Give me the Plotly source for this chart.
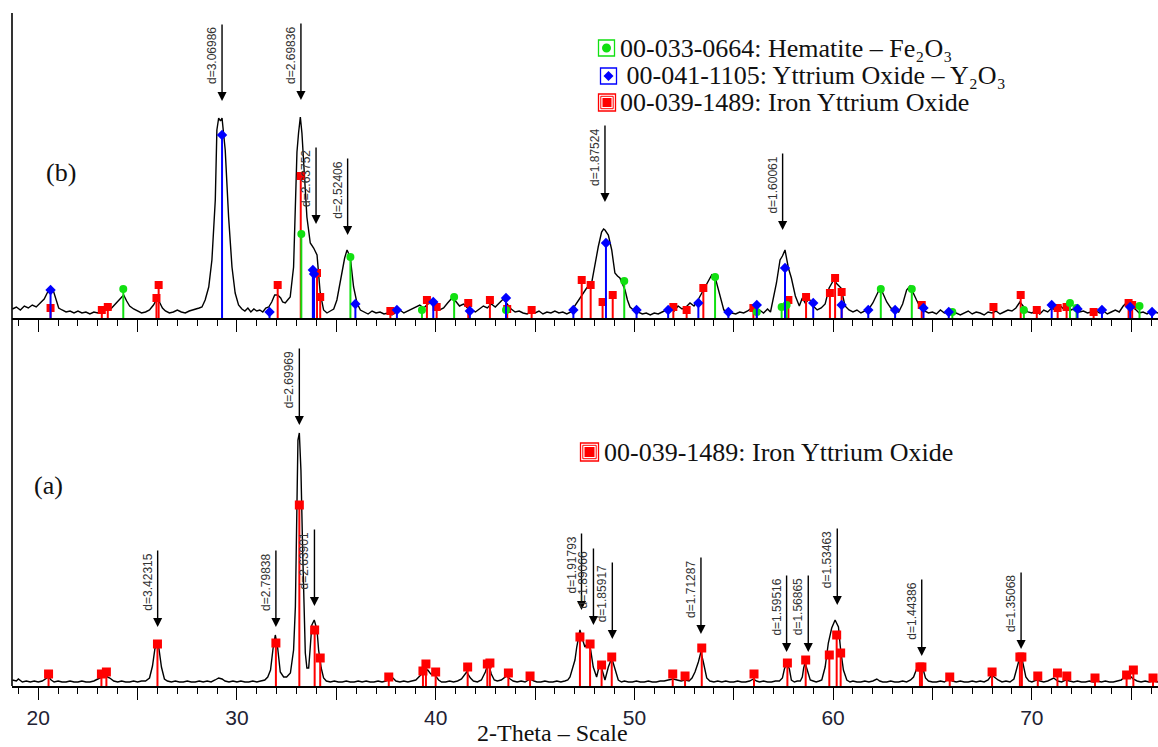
import plotly.graph_objects as go

# ---------------- data: measured pattern (b) (2-theta, counts) ----------------
pattern_b = [
    (18.7, 9), (18.9, 11), (19.1, 8), (19.3, 12), (19.5, 10), (19.7, 13), (19.9, 11), (20.1, 15),
    (20.3, 19), (20.5, 27), (20.62, 31), (20.75, 28), (20.9, 18), (21.03, 10), (21.2, 8), (21.4, 6),
    (21.6, 7), (21.8, 5), (22.0, 7), (22.2, 5), (22.4, 6), (22.6, 4), (22.8, 6), (23.0, 5),
    (23.2, 9), (23.4, 11), (23.6, 8), (23.8, 12), (24.0, 16), (24.15, 20), (24.3, 23), (24.45, 17),
    (24.6, 12), (24.8, 9), (25.0, 7), (25.2, 5), (25.4, 6), (25.6, 8), (25.8, 13), (25.9, 17),
    (26.0, 20), (26.1, 16), (26.25, 10), (26.4, 7), (26.6, 5), (26.8, 6), (27.0, 8), (27.2, 6),
    (27.4, 5), (27.6, 7), (27.8, 8), (28.0, 9), (28.1, 10), (28.24, 11), (28.4, 18), (28.58, 31),
    (28.74, 58), (28.91, 118), (28.99, 188), (29.08, 200), (29.17, 197), (29.25, 200), (29.41, 168),
    (29.58, 101), (29.75, 51), (29.91, 25), (30.08, 13), (30.25, 9), (30.4, 7), (30.55, 10), (30.7, 6),
    (30.85, 9), (31.0, 7), (31.15, 8), (31.3, 6), (31.45, 10), (31.6, 11), (31.75, 16), (31.9, 23),
    (32.05, 23), (32.2, 20), (32.3, 16), (32.43, 15), (32.55, 18), (32.68, 21), (32.85, 51),
    (32.93, 118), (33.02, 166), (33.1, 185), (33.19, 201), (33.27, 185), (33.36, 151), (33.52, 101),
    (33.69, 75), (33.86, 70), (34.03, 63), (34.11, 45), (34.19, 25), (34.36, 8), (34.53, 5),
    (34.7, 7), (34.87, 9), (35.03, 18), (35.15, 30), (35.28, 45), (35.42, 60), (35.54, 68), (35.7, 61),
    (35.87, 31), (36.04, 15), (36.21, 8), (36.4, 6), (36.6, 4), (36.8, 7), (37.0, 5), (37.2, 6),
    (37.4, 4), (37.6, 5), (37.8, 3), (38.0, 6), (38.2, 8), (38.4, 5), (38.6, 7), (38.8, 9),
    (39.0, 11), (39.2, 13), (39.4, 10), (39.6, 14), (39.86, 16), (40.0, 12), (40.2, 8), (40.4, 10),
    (40.6, 15), (40.87, 21), (41.0, 17), (41.2, 12), (41.4, 14), (41.6, 10), (41.8, 8), (42.0, 6),
    (42.2, 9), (42.4, 12), (42.6, 10), (42.8, 14), (43.0, 11), (43.2, 15), (43.4, 19), (43.6, 14),
    (43.8, 9), (44.0, 6), (44.2, 7), (44.4, 5), (44.6, 4), (44.8, 6), (45.0, 5), (45.2, 7),
    (45.4, 4), (45.6, 6), (45.8, 5), (46.0, 7), (46.2, 5), (46.4, 6), (46.6, 4), (46.8, 6),
    (46.93, 10), (47.1, 14), (47.26, 20), (47.45, 26), (47.6, 30), (47.85, 35), (48.02, 55),
    (48.18, 71), (48.35, 86), (48.45, 89), (48.52, 88), (48.69, 83), (48.86, 68), (49.02, 45),
    (49.15, 42), (49.27, 40), (49.4, 34), (49.53, 28), (49.65, 18), (49.78, 11), (49.95, 8),
    (50.2, 6), (50.4, 4), (50.6, 5), (50.8, 3), (51.0, 5), (51.2, 4), (51.4, 6), (51.6, 8),
    (51.8, 10), (52.0, 7), (52.2, 12), (52.4, 9), (52.6, 11), (52.8, 15), (53.0, 12), (53.2, 18),
    (53.4, 25), (53.6, 32), (53.89, 43), (54.1, 38), (54.3, 22), (54.5, 8), (54.7, 6), (54.9, 5),
    (55.1, 4), (55.3, 6), (55.5, 5), (55.7, 7), (55.9, 10), (56.1, 6), (56.3, 8), (56.5, 5),
    (56.7, 9), (56.85, 6), (57.0, 21), (57.15, 35), (57.33, 58), (57.45, 62), (57.58, 68),
    (57.75, 50), (57.9, 40), (58.1, 22), (58.3, 12), (58.45, 20), (58.6, 15), (58.8, 19),
    (59.0, 12), (59.2, 8), (59.4, 10), (59.6, 14), (59.8, 30), (60.03, 38), (60.2, 34), (60.4, 30),
    (60.6, 12), (60.8, 8), (61.0, 6), (61.2, 8), (61.4, 5), (61.6, 7), (61.8, 9), (62.0, 15),
    (62.2, 24), (62.36, 30), (62.5, 25), (62.7, 16), (62.9, 10), (63.1, 8), (63.3, 6), (63.5, 14),
    (63.7, 28), (63.87, 32), (64.0, 26), (64.2, 18), (64.4, 10), (64.6, 7), (64.8, 5), (65.0, 6),
    (65.2, 4), (65.4, 8), (65.6, 5), (65.8, 6), (66.0, 4), (66.2, 5), (66.4, 3), (66.6, 5),
    (66.8, 7), (67.0, 4), (67.2, 6), (67.4, 5), (67.6, 3), (67.8, 6), (68.0, 5), (68.2, 7),
    (68.4, 4), (68.6, 6), (68.8, 8), (69.0, 7), (69.2, 10), (69.4, 16), (69.6, 11), (69.8, 6),
    (70.0, 5), (70.2, 7), (70.4, 4), (70.6, 8), (70.8, 6), (71.0, 10), (71.2, 8), (71.4, 13),
    (71.6, 9), (71.8, 12), (72.0, 8), (72.2, 10), (72.4, 6), (72.6, 7), (72.8, 5), (73.0, 6),
    (73.2, 8), (73.4, 5), (73.6, 7), (73.8, 4), (74.0, 6), (74.2, 8), (74.4, 6), (74.6, 12),
    (74.8, 16), (75.0, 11), (75.2, 9), (75.4, 5), (75.6, 6), (75.8, 4), (76.0, 7), (76.35, 5),
]

# ---------------- data: measured pattern (a) ----------------
pattern_a = [
    (18.7, 6), (18.9, 5), (19.0, 7), (19.2, 4), (19.4, 5), (19.6, 4), (19.8, 5), (20.0, 4),
    (20.2, 5), (20.4, 7), (20.52, 9), (20.65, 6), (20.8, 4), (21.0, 5), (21.2, 4), (21.4, 4),
    (21.6, 5), (21.8, 4), (22.0, 4), (22.2, 5), (22.4, 4), (22.6, 4), (22.8, 5), (23.0, 7),
    (23.2, 9), (23.4, 10), (23.6, 8), (23.8, 5), (24.0, 4), (24.2, 5), (24.4, 4), (24.6, 4),
    (24.8, 5), (25.0, 4), (25.2, 5), (25.4, 5), (25.6, 8), (25.75, 20), (25.87, 37), (25.97, 44),
    (26.07, 38), (26.2, 19), (26.35, 7), (26.5, 5), (26.7, 4), (26.9, 5), (27.1, 4), (27.3, 4),
    (27.5, 5), (27.7, 4), (27.9, 4), (28.1, 5), (28.3, 4), (28.5, 5), (28.7, 4), (28.9, 6),
    (29.08, 8), (29.25, 7), (29.4, 5), (29.6, 4), (29.8, 5), (30.0, 4), (30.2, 5), (30.4, 4),
    (30.6, 4), (30.8, 5), (31.0, 4), (31.2, 5), (31.4, 6), (31.55, 9), (31.69, 16), (31.82, 38),
    (31.93, 51), (32.05, 38), (32.18, 14), (32.35, 9), (32.5, 9), (32.69, 13), (32.85, 36),
    (32.94, 79), (33.02, 199), (33.07, 246), (33.14, 253), (33.22, 216), (33.31, 133), (33.37, 76),
    (33.44, 33), (33.52, 18), (33.61, 18), (33.69, 39), (33.77, 61), (33.89, 66), (34.03, 56),
    (34.11, 36), (34.24, 18), (34.36, 8), (34.5, 5), (34.7, 4), (34.9, 5), (35.1, 4), (35.3, 4),
    (35.5, 5), (35.7, 4), (35.9, 4), (36.1, 5), (36.3, 4), (36.5, 5), (36.7, 4), (36.9, 4),
    (37.1, 5), (37.3, 4), (37.5, 5), (37.7, 7), (37.85, 8), (38.0, 5), (38.2, 4), (38.4, 5),
    (38.6, 4), (38.8, 5), (39.0, 6), (39.2, 10), (39.39, 14), (39.6, 16), (39.75, 12), (39.96, 11),
    (40.15, 6), (40.3, 4), (40.5, 4), (40.7, 5), (40.9, 4), (41.1, 5), (41.3, 7), (41.56, 14),
    (41.75, 8), (41.9, 5), (42.1, 4), (42.3, 6), (42.5, 14), (42.65, 23), (42.8, 12), (42.95, 6),
    (43.1, 5), (43.3, 6), (43.57, 10), (43.75, 7), (43.9, 5), (44.1, 4), (44.3, 5), (44.5, 4),
    (44.75, 7), (44.95, 5), (45.1, 4), (45.3, 4), (45.5, 5), (45.7, 4), (45.9, 4), (46.1, 5),
    (46.3, 4), (46.5, 5), (46.65, 6), (46.76, 9), (47.01, 26), (47.1, 39), (47.26, 56), (47.4, 46),
    (47.51, 39), (47.68, 44), (47.8, 36), (47.93, 19), (48.1, 9), (48.22, 19), (48.35, 18),
    (48.52, 6), (48.69, 19), (48.86, 28), (49.02, 18), (49.19, 6), (49.35, 4), (49.5, 5),
    (49.7, 4), (49.9, 4), (50.1, 5), (50.3, 4), (50.5, 4), (50.7, 5), (50.9, 4), (51.1, 4),
    (51.3, 5), (51.5, 5), (51.7, 6), (51.96, 7), (52.15, 6), (52.35, 5), (52.55, 6), (52.75, 5),
    (52.9, 8), (53.05, 14), (53.22, 24), (53.35, 34), (53.47, 24), (53.64, 8), (53.8, 5),
    (54.0, 4), (54.2, 5), (54.4, 4), (54.6, 5), (54.8, 4), (55.0, 4), (55.2, 5), (55.4, 4),
    (55.6, 4), (55.8, 5), (55.99, 7), (56.15, 5), (56.3, 4), (56.5, 5), (56.7, 4), (56.9, 4),
    (57.1, 5), (57.3, 5), (57.45, 8), (57.55, 17), (57.67, 23), (57.8, 17), (57.9, 6), (58.05, 4),
    (58.2, 5), (58.35, 5), (58.45, 9), (58.52, 18), (58.59, 23), (58.7, 16), (58.85, 6), (59.0, 5),
    (59.15, 4), (59.3, 5), (59.43, 6), (59.6, 19), (59.76, 43), (59.93, 58), (60.1, 66),
    (60.27, 59), (60.38, 36), (60.52, 16), (60.69, 6), (60.85, 4), (61.0, 5), (61.2, 4), (61.4, 4),
    (61.6, 5), (61.8, 4), (62.0, 5), (62.2, 7), (62.35, 5), (62.5, 4), (62.7, 4), (62.9, 5),
    (63.1, 4), (63.3, 4), (63.5, 5), (63.7, 4), (63.9, 6), (64.05, 9), (64.2, 17), (64.37, 21),
    (64.5, 19), (64.65, 8), (64.8, 5), (65.0, 4), (65.2, 4), (65.4, 5), (65.6, 4), (65.82, 7),
    (66.0, 5), (66.2, 4), (66.4, 5), (66.6, 4), (66.8, 4), (67.0, 5), (67.2, 4), (67.4, 5),
    (67.6, 4), (67.8, 6), (67.98, 11), (68.15, 8), (68.3, 6), (68.5, 4), (68.7, 5), (68.9, 4),
    (69.1, 7), (69.25, 18), (69.4, 29), (69.52, 26), (69.7, 9), (69.85, 5), (70.0, 4), (70.24, 6),
    (70.4, 5), (70.6, 4), (70.8, 5), (71.1, 8), (71.3, 5), (71.5, 4), (71.7, 6), (71.9, 5),
    (72.1, 4), (72.3, 5), (72.5, 4), (72.7, 4), (72.9, 5), (73.1, 4), (73.3, 5), (73.5, 4),
    (73.7, 5), (73.9, 4), (74.1, 4), (74.3, 5), (74.5, 6), (74.65, 9), (74.8, 12), (74.95, 10),
    (75.1, 7), (75.3, 5), (75.5, 4), (75.7, 5), (75.9, 4), (76.1, 5), (76.35, 4),
]

# ---------------- reference sticks (2-theta, relative height) ----------------
iyo_b = [(20.62, 10), (23.2, 8), (23.5, 11), (25.95, 20), (26.06, 33), (32.05, 33), (33.21, 142),
         (34.03, 45), (34.19, 21), (37.72, 7), (39.56, 18), (40.05, 11), (41.64, 15), (42.73, 18),
         (43.6, 9), (44.83, 8), (47.35, 38), (47.8, 33), (48.4, 16), (48.91, 23), (51.96, 11),
         (52.63, 8), (53.47, 30), (55.99, 10), (57.75, 18), (58.64, 21), (59.84, 25), (60.1, 40),
         (60.43, 26), (64.46, 13), (68.07, 11), (69.44, 23), (70.25, 8), (71.3, 10), (71.75, 11),
         (73.11, 6), (74.87, 15), (75.05, 13)]
y2o3_b = [(20.62, 28), (29.25, 183), (31.64, 6), (33.82, 48), (33.88, 44), (35.96, 14), (38.05, 8),
          (39.88, 16), (41.72, 7), (43.54, 20), (46.93, 8), (48.57, 75), (50.11, 8), (51.7, 8),
          (53.22, 15), (54.73, 6), (56.16, 13), (57.58, 50), (59.0, 15), (60.43, 13), (61.77, 8),
          (63.12, 8), (64.55, 10), (65.82, 6), (71.0, 13), (72.3, 9), (73.53, 8), (74.95, 11),
          (76.05, 6)]
hem_b = [(24.28, 29), (33.24, 84), (35.71, 61), (39.31, 8), (40.93, 21), (43.54, 8), (49.49, 37),
         (54.06, 41), (56.16, 6), (57.41, 11), (57.66, 13), (62.4, 29), (63.96, 29), (66.0, 6),
         (69.6, 8), (71.92, 15), (72.25, 10), (75.42, 12)]
iyo_a = [(20.52, 12), (23.18, 12), (23.43, 14), (26.0, 42), (31.96, 43), (33.14, 181), (33.91, 56),
         (34.19, 28), (37.64, 9), (39.36, 15), (39.51, 22), (40.0, 14), (41.61, 19), (42.6, 22),
         (42.73, 23), (43.66, 13), (44.75, 10), (47.26, 49), (47.77, 42), (48.35, 21), (48.86, 29),
         (51.93, 12), (52.55, 10), (53.39, 38), (56.02, 12), (57.7, 23), (58.62, 26), (59.81, 31),
         (60.18, 51), (60.38, 33), (64.37, 19), (64.47, 19), (65.87, 9), (68.0, 14), (69.4, 29),
         (69.5, 29), (70.3, 10), (71.29, 13), (71.76, 10), (73.18, 8), (74.77, 11), (75.11, 16),
         (76.1, 8)]

# ---------------- d-spacing peak labels ----------------
d_labels_b = ["d=3.06986", "d=2.69836", "d=2.63752", "d=2.52406", "d=1.87524", "d=1.60061"]
d_theta_b = [29.25, 33.22, 33.98, 35.57, 48.52, 57.46]
d_tip_b = [217, 218, 94, 83, 116, 88]

d_labels_a = ["d=3.42315", "d=2.79838", "d=2.69969", "d=2.63901", "d=1.91793", "d=1.89066",
              "d=1.85917", "d=1.71287", "d=1.59516", "d=1.56865", "d=1.53463", "d=1.44386",
              "d=1.35068"]
d_theta_a = [26.01, 31.96, 33.14, 33.9, 47.34, 47.94, 48.89, 53.35, 57.66, 58.75, 60.21, 64.46, 69.46]
d_tip_a = [59, 59, 261, 80, 76, 61, 47, 52, 34, 34, 81, 30, 37]

phase_names = ["00-033-0664: Hematite – Fe₂O₃",
               " 00-041-1105: Yttrium Oxide – Y₂O₃",
               "00-039-1489: Iron Yttrium Oxide"]

x_tick_vals = [20, 25, 30, 35, 40, 45, 50, 55, 60, 65, 70, 75]
x_tick_text = ["20", "", "30", "", "40", "", "50", "", "60", "", "70", ""]

# ---------------- figure ----------------
W, H = 1158, 747
ML, MB = 12, 61
PH = H - MB
PW = W - ML

RED, BLUE, GREEN = "#ff0000", "#0000ff", "#11e011"
SERIF = "Liberation Serif"
SANS = "Liberation Sans"


def px(xp, yp):
    return (xp - ML) / PW, (PH - yp) / PH


fig = go.Figure()


def add_pattern(data, xa, ya):
    fig.add_trace(go.Scatter(x=[p[0] for p in data], y=[p[1] for p in data], mode="lines",
                             line=dict(color="black", width=1.4), xaxis=xa, yaxis=ya,
                             hoverinfo="skip", showlegend=False))


def add_sticks(data, color, symbol, size, xa, ya):
    xs, ys = [], []
    for t, v in data:
        xs += [t, t, None]
        ys += [0, v, None]
    fig.add_trace(go.Scatter(x=xs, y=ys, mode="lines", line=dict(color=color, width=2),
                             xaxis=xa, yaxis=ya, hoverinfo="skip", showlegend=False))
    fig.add_trace(go.Scatter(x=[p[0] for p in data], y=[p[1] for p in data], mode="markers",
                             marker=dict(color=color, symbol=symbol, size=size, line=dict(width=0)),
                             xaxis=xa, yaxis=ya, hoverinfo="skip", showlegend=False))


add_pattern(pattern_b, "x2", "y2")
add_sticks(iyo_b, RED, "square", 8, "x2", "y2")
add_sticks(hem_b, GREEN, "circle", 8, "x2", "y2")
add_sticks(y2o3_b, BLUE, "diamond", 8, "x2", "y2")

add_pattern(pattern_a, "x", "y")
add_sticks(iyo_a, RED, "square", 9, "x", "y")

annotations = []
ARROW_LEN = 78


def add_dlabels(labels, thetas, tips, xr, yr):
    for lab, t, tip in zip(labels, thetas, tips):
        annotations.append(dict(x=t, y=tip, xref=xr, yref=yr, text="", showarrow=True,
                                ax=0, ay=-ARROW_LEN, arrowhead=2, arrowsize=1.3, arrowwidth=1.4,
                                arrowcolor="black", standoff=0))
        annotations.append(dict(x=t, y=tip + ARROW_LEN - 33, xref=xr, yref=yr, text=lab,
                                showarrow=False, textangle=-90, xshift=-10,
                                font=dict(family=SANS, size=12, color="#333333")))


add_dlabels(d_labels_b, d_theta_b, d_tip_b, "x2", "y2")
add_dlabels(d_labels_a, d_theta_a, d_tip_a, "x", "y")


def text_at(xp, yp, txt, size, anchor="left", family=SERIF, yanchor="middle"):
    x, y = px(xp, yp)
    annotations.append(dict(x=x, y=y, xref="paper", yref="paper", text=txt, showarrow=False,
                            xanchor=anchor, yanchor=yanchor, borderpad=0,
                            font=dict(family=family, size=size, color="#111111")))


text_at(61, 173, "(b)", 26, "center")
text_at(48, 486, "(a)", 26, "center")
text_at(619, 48, phase_names[0], 26)
text_at(619, 76, phase_names[1], 26)
text_at(619, 103, phase_names[2], 26)
text_at(603, 452, phase_names[2], 26)
text_at(552, 747, "2-Theta – Scale", 24, "center", yanchor="bottom")

shapes = []


def rect(x0, y0, x1, y1, color, fill=None, width=1.3):
    a0, b0 = px(x0, y0)
    a1, b1 = px(x1, y1)
    shapes.append(dict(type="rect", xref="paper", yref="paper", x0=a0, y0=b1, x1=a1, y1=b0,
                       line=dict(color=color, width=0 if fill else width),
                       fillcolor=fill if fill else "rgba(0,0,0,0)"))


def circle(cx, cy, r, color):
    a0, b0 = px(cx - r, cy - r)
    a1, b1 = px(cx + r, cy + r)
    shapes.append(dict(type="circle", xref="paper", yref="paper", x0=a0, y0=b1, x1=a1, y1=b0,
                       line=dict(width=0), fillcolor=color))


def diamond(cx, cy, r, color):
    pts = [px(cx, cy - r), px(cx + r, cy), px(cx, cy + r), px(cx - r, cy)]
    path = "M " + " L ".join(f"{a},{b}" for a, b in pts) + " Z"
    shapes.append(dict(type="path", xref="paper", yref="paper", path=path,
                       line=dict(width=0), fillcolor=color))


# legend icons
rect(598.5, 40, 614.5, 56, GREEN)
circle(606.5, 48, 4.5, GREEN)
rect(600.5, 68, 616.5, 84, BLUE)
diamond(608.5, 76, 5, BLUE)
rect(598.5, 94, 615.5, 111, RED)
rect(600.8, 96.3, 613.2, 108.7, RED, width=1)
rect(602.5, 98, 611.5, 107, RED, fill=RED)
rect(580.5, 443, 598.5, 461, RED)
rect(582.8, 445.3, 596.2, 458.7, RED, width=1)
rect(584.5, 447, 594.5, 457, RED, fill=RED)

# left vertical frame line
shapes.append(dict(type="line", xref="paper", yref="paper", x0=0, x1=0, y0=0, y1=px(0, 13)[1],
                   line=dict(color="black", width=1.6)))

axis_common = dict(range=[18.68, 76.35], showgrid=False, zeroline=False, showline=True,
                   linecolor="black", linewidth=1.6, ticks="outside", ticklen=12, tickwidth=1.3,
                   tickcolor="black", tickmode="array", tickvals=x_tick_vals,
                   minor=dict(ticks="outside", dtick=1, tick0=0, ticklen=6, tickwidth=1.2,
                              tickcolor="black", showgrid=False))

fig.update_layout(
    width=W, height=H,
    margin=dict(l=ML, r=0, t=0, b=MB, pad=0),
    paper_bgcolor="white", plot_bgcolor="rgba(0,0,0,0)",
    showlegend=False,
    xaxis=dict(**axis_common, anchor="y", domain=[0, 1], ticktext=x_tick_text,
               tickfont=dict(family=SANS, size=21, color="#222233")),
    yaxis=dict(domain=[0, (PH - 330) / PH], range=[0, 356], visible=False),
    xaxis2=dict(**axis_common, anchor="y2", domain=[0, 1], matches="x", showticklabels=False),
    yaxis2=dict(domain=[(PH - 318) / PH, 1], range=[0, 318], visible=False),
    annotations=annotations,
    shapes=shapes,
)

fig.write_html("out.html")
